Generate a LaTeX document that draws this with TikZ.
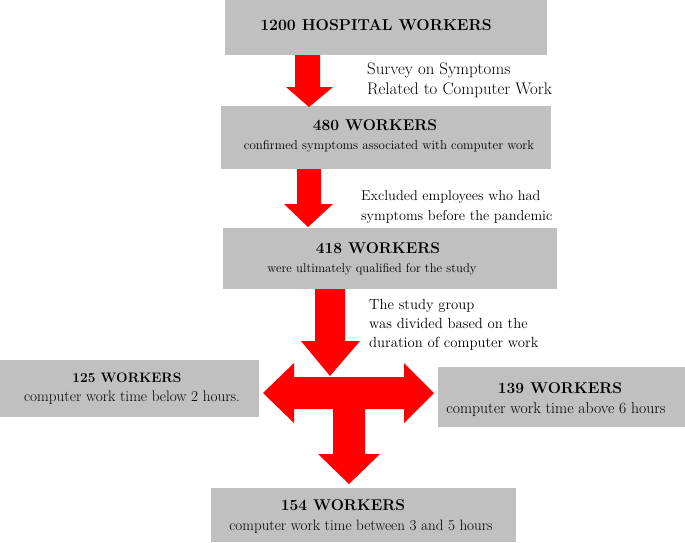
\documentclass[tikz,border=0pt]{standalone}
\usepackage{tikz}
\definecolor{boxgray}{RGB}{192,192,192}
\definecolor{arrred}{RGB}{255,0,0}
\tikzset{
  graybox/.style={fill=boxgray, draw=none, inner sep=0pt, rectangle},
  txt/.style={inner sep=0pt, text=black},
  side/.style={inner sep=0pt, align=left, anchor=west, text=black},
  blockarrow/.style={fill=arrred, draw=none}
}
\newcommand{\fs}[2]{\fontsize{#1}{#2}\selectfont}
\begin{document}
\begin{tikzpicture}[x=1pt,y=-1pt]
\useasboundingbox (0,0) rectangle (685,542);
% boxes
\node[graybox, minimum width=322pt, minimum height=55pt] (b1) at (386,27.5) {};
\node[graybox, minimum width=330pt, minimum height=63pt] (b2) at (386,137.5) {};
\node[graybox, minimum width=334pt, minimum height=61pt] (b3) at (390,258.5) {};
\node[graybox, minimum width=259pt, minimum height=57pt] (b4) at (129.5,388.5) {};
\node[graybox, minimum width=247pt, minimum height=60pt] (b5) at (561.5,397) {};
\node[graybox, minimum width=305pt, minimum height=54pt] (b6) at (363.5,515) {};
% box texts
\node[txt] (t1) at (376,25) {\fs{15.8}{18}\bfseries 1200 HOSPITAL WORKERS};
\node[txt] (t2a) at (375,125) {\fs{15.6}{18}\bfseries 480 WORKERS};
\node[txt] (t2b) at (389,146) {\fs{12.9}{15}confirmed symptoms associated with computer work};
\node[txt] (t3a) at (378,248) {\fs{15.6}{18}\bfseries 418 WORKERS};
\node[txt] (t3b) at (372,269) {\fs{12.7}{15}were ultimately qualified for the study};
\node[txt] (t4a) at (127,378) {\fs{13.7}{16}\bfseries 125 WORKERS};
\node[txt] (t4b) at (132,398) {\fs{15.2}{17}computer work time below 2 hours.};
\node[txt] (t5a) at (560,388) {\fs{15.6}{18}\bfseries 139 WORKERS};
\node[txt] (t5b) at (556,410) {\fs{15.7}{18}computer work time above 6 hours};
\node[txt] (t6a) at (343,505) {\fs{15.6}{18}\bfseries 154 WORKERS};
\node[txt] (t6b) at (361,527) {\fs{15.1}{17}computer work time between 3 and 5 hours};
% side labels
\node[side, font=\fs{16.8}{20}] (l1) at (367,80) {Survey on Symptoms\\Related to Computer Work};
\node[side, font=\fs{14.3}{20}] (l2) at (361,207) {Excluded employees who had\\symptoms before the pandemic};
\node[side, font=\fs{14.7}{19}] (l3) at (369,325) {The study group\\was divided based on the\\duration of computer work};
% arrows
\fill[blockarrow] (295,55) -- (320,55) -- (320,87) -- (333,87) -- (309,107) -- (286,87) -- (295,87) -- cycle;
\fill[blockarrow] (297,169) -- (321,169) -- (321,204) -- (333,204) -- (308,227) -- (284,204) -- (297,204) -- cycle;
\fill[blockarrow] (315,289) -- (345,289) -- (345,341) -- (360,341) -- (330,376) -- (301,341) -- (315,341) -- cycle;
\fill[blockarrow] (294,377) -- (404,377) -- (404,363) -- (434,393) -- (404,423) -- (404,409)
  -- (365,409) -- (365,454) -- (380,454) -- (349,484) -- (318,454) -- (333,454) -- (333,409)
  -- (294,409) -- (294,423) -- (263,393) -- (294,363) -- cycle;
\end{tikzpicture}
\end{document}
